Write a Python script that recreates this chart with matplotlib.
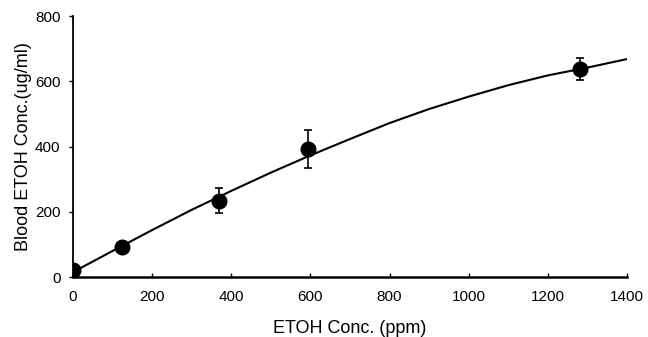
import matplotlib
matplotlib.use("Agg")
import matplotlib.pyplot as plt

# measured points (mean +/- error)
conc_ppm = [0, 125, 370, 595, 1280]
blood_etoh = [21, 93, 234, 392, 638]
blood_err = [0, 0, 38, 58, 34]

# fitted curve
curve_x = [0, 100, 200, 300, 400, 500, 600, 700, 800, 900, 1000, 1100, 1200, 1300, 1400]
curve_y = [15, 80, 144, 206, 264, 320, 373, 423, 472, 515, 553, 588, 618, 642, 668]

xticks = [0, 200, 400, 600, 800, 1000, 1200, 1400]
yticks = [0, 200, 400, 600, 800]

plt.rcParams["font.family"] = ["Liberation Sans", "DejaVu Sans"]

fig = plt.figure(figsize=(6.48, 3.37), dpi=100)
ax = fig.add_axes([0.1127, 0.178, 0.855, 0.7745])

ax.plot(curve_x, curve_y, color="black", lw=1.5, zorder=2)
ax.errorbar(conc_ppm, blood_etoh, yerr=blood_err, fmt="o", color="black",
            markersize=10.5, elinewidth=1.2, capsize=3, capthick=1.2, zorder=3)

ax.set_xlim(0, 1400)
ax.set_ylim(0, 800)
ax.set_xticks(xticks)
ax.set_yticks(yticks)
ax.spines["top"].set_visible(False)
ax.spines["right"].set_visible(False)
ax.spines["left"].set_linewidth(1.3)
ax.spines["bottom"].set_linewidth(1.8)
ax.tick_params(axis="x", direction="in", length=3, width=1, labelsize=11, pad=9)
ax.tick_params(axis="y", direction="out", length=3, width=1, labelsize=11, pad=6)
for sp in ax.spines.values():
    sp.set_clip_on(False)

ax.set_xlabel("ETOH Conc. (ppm)", fontsize=13, labelpad=12)
ax.set_ylabel("Blood ETOH Conc.(ug/ml)", fontsize=13, labelpad=2)

fig.savefig("out.png", dpi=100)
